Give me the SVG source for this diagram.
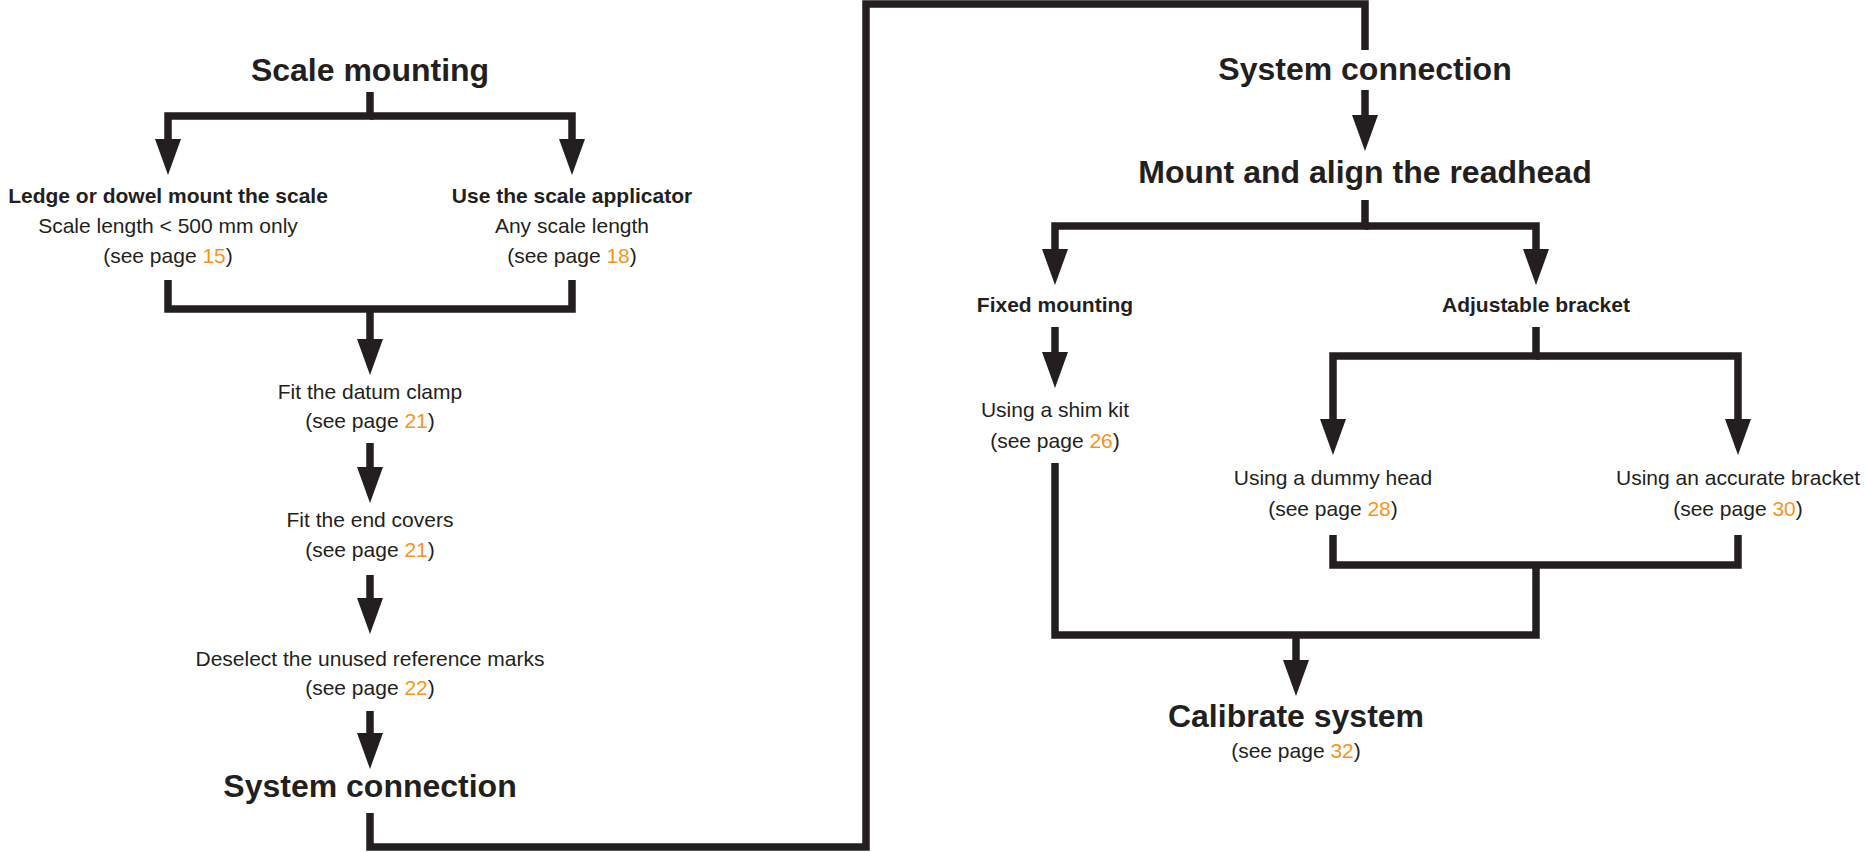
<svg xmlns="http://www.w3.org/2000/svg" width="1865" height="852" viewBox="0 0 1865 852">
<style>
text{font-family:"Liberation Sans",Arial,Helvetica,sans-serif;fill:#231f20;text-anchor:middle}
.t{font-size:32px;font-weight:bold}
.b{font-size:21px;font-weight:bold}
.r{font-size:21px}
.o{fill:#f7941d}
.c{fill:none;stroke:#231f20;stroke-width:7.5;stroke-linejoin:miter;stroke-linecap:butt}
.a{marker-end:url(#ah)}
</style>
<defs>
<marker id="ah" markerUnits="userSpaceOnUse" viewBox="0 -14 37 28" markerWidth="37" markerHeight="28" refX="0" refY="0" orient="auto" overflow="visible">
<path d="M0,-13 L36,0 L0,13 Z" fill="#231f20"/>
</marker>
</defs>
<rect width="1865" height="852" fill="#fff"/>
<g id="connectors">
<path class="c a" d="M370 92 V116 H168 V139"/>
<path class="c a" d="M370 116 H572 V139"/>
<path class="c" d="M168 280 V309 H572 V280"/>
<path class="c a" d="M370 309 V339"/>
<path class="c a" d="M370 443 V467"/>
<path class="c a" d="M370 575 V598"/>
<path class="c a" d="M370 711 V733"/>
<path class="c" d="M370 813 V847 H866 V4 H1365 V50"/>
<path class="c a" d="M1365 90 V115"/>
<path class="c a" d="M1365 200 V226 H1055 V249"/>
<path class="c a" d="M1365 226 H1536 V249"/>
<path class="c a" d="M1055 327 V352"/>
<path class="c a" d="M1536 327 V356 H1333 V419"/>
<path class="c a" d="M1536 356 H1738 V419"/>
<path class="c" d="M1333 535 V565 H1738 V535"/>
<path class="c" d="M1536 565 V635 H1055 V463"/>
<path class="c a" d="M1296 635 V660"/>
</g>
<g id="scale-mounting"><text class="t" x="370" y="81">Scale mounting</text></g>
<g id="ledge-dowel">
<text class="b" x="168" y="203">Ledge or dowel mount the scale</text>
<text class="r" x="168" y="233">Scale length &lt; 500 mm only</text>
<text class="r" x="168" y="263">(see page <tspan class="o">15</tspan>)</text>
</g>
<g id="scale-applicator">
<text class="b" x="572" y="203">Use the scale applicator</text>
<text class="r" x="572" y="233">Any scale length</text>
<text class="r" x="572" y="263">(see page <tspan class="o">18</tspan>)</text>
</g>
<g id="datum-clamp">
<text class="r" x="370" y="399">Fit the datum clamp</text>
<text class="r" x="370" y="428">(see page <tspan class="o">21</tspan>)</text>
</g>
<g id="end-covers">
<text class="r" x="370" y="527">Fit the end covers</text>
<text class="r" x="370" y="557">(see page <tspan class="o">21</tspan>)</text>
</g>
<g id="deselect">
<text class="r" x="370" y="666">Deselect the unused reference marks</text>
<text class="r" x="370" y="695">(see page <tspan class="o">22</tspan>)</text>
</g>
<g id="system-connection-1"><text class="t" x="370" y="797">System connection</text></g>
<g id="system-connection-2"><text class="t" x="1365" y="80">System connection</text></g>
<g id="mount-align"><text class="t" x="1365" y="183">Mount and align the readhead</text></g>
<g id="fixed-mounting"><text class="b" x="1055" y="312">Fixed mounting</text></g>
<g id="adjustable-bracket"><text class="b" x="1536" y="312">Adjustable bracket</text></g>
<g id="shim-kit">
<text class="r" x="1055" y="417">Using a shim kit</text>
<text class="r" x="1055" y="448">(see page <tspan class="o">26</tspan>)</text>
</g>
<g id="dummy-head">
<text class="r" x="1333" y="485">Using a dummy head</text>
<text class="r" x="1333" y="516">(see page <tspan class="o">28</tspan>)</text>
</g>
<g id="accurate-bracket">
<text class="r" x="1738" y="485">Using an accurate bracket</text>
<text class="r" x="1738" y="516">(see page <tspan class="o">30</tspan>)</text>
</g>
<g id="calibrate">
<text class="t" x="1296" y="727">Calibrate system</text>
<text class="r" x="1296" y="758">(see page <tspan class="o">32</tspan>)</text>
</g>
</svg>
